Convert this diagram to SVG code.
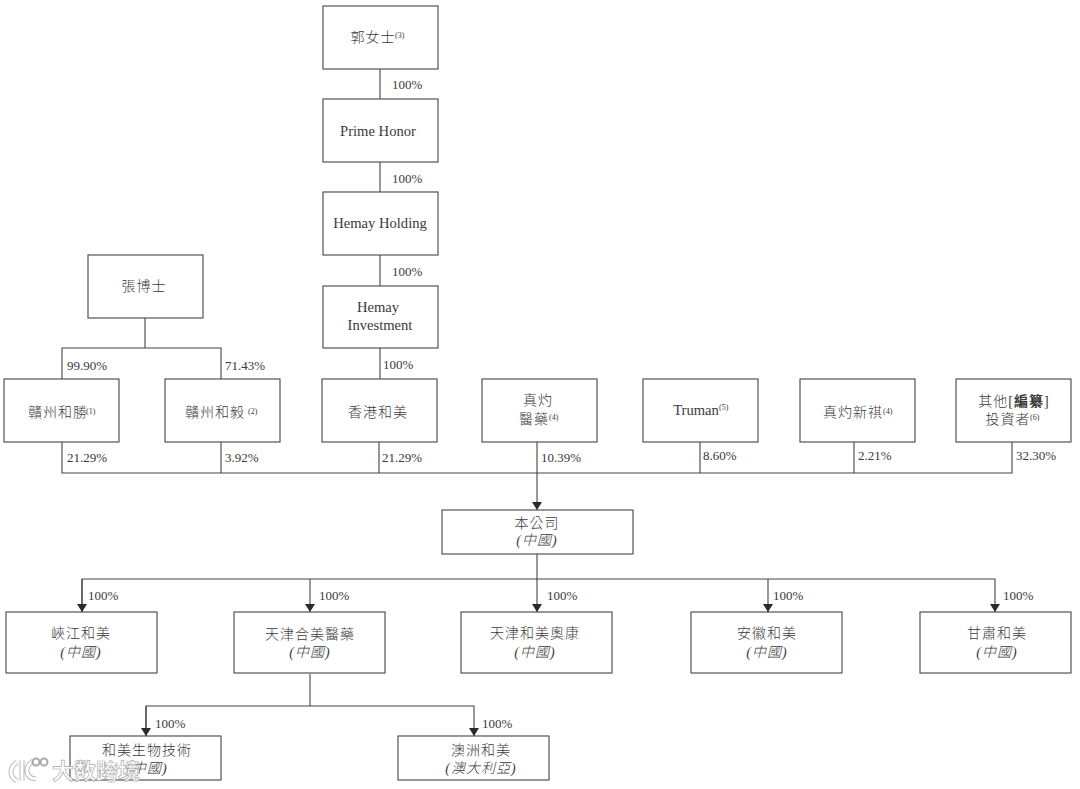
<svg xmlns="http://www.w3.org/2000/svg" width="1080" height="789" viewBox="0 0 1080 789">
<defs>
<marker id="arr" markerUnits="userSpaceOnUse" markerWidth="11" markerHeight="10" refX="8" refY="5" orient="auto"><path d="M0 0L8 5L0 10Z" fill="#2b2b2b"/></marker>
</defs>
<style>
text{font-family:"Liberation Serif","Noto Sans CJK TC",serif;fill:#3a3a3a;text-anchor:middle}
.b{fill:#fff;stroke:#444;stroke-width:1.1}
.n{font-size:14.6px}
.c{font-size:14px;letter-spacing:1px;font-weight:300}
.i{font-size:14px;font-style:italic;letter-spacing:1px;font-weight:300}
.p{font-size:13px;text-anchor:start}
.s{font-size:8px;text-anchor:start}
.l{fill:none;stroke:#444;stroke-width:1.1}
.w{font-family:"Noto Sans CJK SC",sans-serif;font-size:22px;font-weight:700;fill:#fff;fill-opacity:.85;stroke:#aaa;stroke-width:.7;text-anchor:start}
.m{fill:none;stroke:#fff;stroke-width:3}
.g{fill:none;stroke:#bbb;stroke-width:5}
</style>
<rect width="1080" height="789" fill="#fff"/>
<g id="connectors">
<path class="l" d="M380 69V99M380 162V192M380 255V286M380 348V379"/>
<path class="l" d="M145 318V348M62 379V348H221V379"/>
<path class="l" d="M62 442V473H1012V442M221 442V473M379 442V473M700 442V473M854 442V473"/>
<path class="l" d="M537 442V510" marker-end="url(#arr)"/>
<path class="l" d="M537 554V579"/>
<path class="l" d="M82 612V579H995V612" marker-end="url(#arr)"/>
<path class="l" d="M82 579V612" marker-end="url(#arr)"/>
<path class="l" d="M310 579V612" marker-end="url(#arr)"/>
<path class="l" d="M537 579V612" marker-end="url(#arr)"/>
<path class="l" d="M768 579V612" marker-end="url(#arr)"/>
<path class="l" d="M310 674V706"/>
<path class="l" d="M146 736V706H474V736" marker-end="url(#arr)"/>
<path class="l" d="M146 706V736" marker-end="url(#arr)"/>
</g>
<g id="labels">
<text class="p" x="392" y="89">100%</text>
<text class="p" x="392" y="183">100%</text>
<text class="p" x="392" y="276">100%</text>
<text class="p" x="383" y="369">100%</text>
<text class="p" x="67" y="370">99.90%</text>
<text class="p" x="225" y="370">71.43%</text>
<text class="p" x="67" y="462">21.29%</text>
<text class="p" x="225" y="462">3.92%</text>
<text class="p" x="382" y="462">21.29%</text>
<text class="p" x="541" y="462">10.39%</text>
<text class="p" x="703" y="460">8.60%</text>
<text class="p" x="858" y="460">2.21%</text>
<text class="p" x="1016" y="460">32.30%</text>
<text class="p" x="88" y="600">100%</text>
<text class="p" x="319" y="600">100%</text>
<text class="p" x="547" y="600">100%</text>
<text class="p" x="773" y="600">100%</text>
<text class="p" x="1003" y="600">100%</text>
<text class="p" x="155" y="728">100%</text>
<text class="p" x="482" y="728">100%</text>
</g>
<g id="n1"><rect class="b" x="323" y="6" width="115" height="63"/><text class="c" x="373" y="42">郭女士</text><text class="s" x="395" y="38">(3)</text></g>
<g id="n2"><rect class="b" x="323" y="99" width="115" height="63"/><text class="n" x="378" y="136">Prime Honor</text></g>
<g id="n3"><rect class="b" x="323" y="192" width="115" height="63"/><text class="n" x="380" y="228">Hemay Holding</text></g>
<g id="n4"><rect class="b" x="323" y="286" width="115" height="62"/><text class="n" x="378" y="312">Hemay</text><text class="n" x="380" y="330">Investment</text></g>
<g id="n5"><rect class="b" x="88" y="255" width="115" height="63"/><text class="c" x="144" y="291">張博士</text></g>
<g id="n6"><rect class="b" x="4" y="379" width="115" height="63"/><text class="c" x="58" y="417">贛州和勝</text><text class="s" x="86" y="414">(1)</text></g>
<g id="n7"><rect class="b" x="165" y="379" width="115" height="63"/><text class="c" x="215" y="417">贛州和毅</text><text class="s" x="248" y="414">(2)</text></g>
<g id="n8"><rect class="b" x="322" y="379" width="115" height="63"/><text class="c" x="378" y="417">香港和美</text></g>
<g id="n9"><rect class="b" x="482" y="379" width="115" height="63"/><text class="c" x="538" y="405">真灼</text><text class="c" x="534" y="424">醫藥</text><text class="s" x="549" y="420">(4)</text></g>
<g id="n10"><rect class="b" x="643" y="379" width="115" height="63"/><text class="n" x="696" y="415">Truman</text><text class="s" x="719" y="410">(5)</text></g>
<g id="n11"><rect class="b" x="800" y="379" width="115" height="63"/><text class="c" x="853" y="417">真灼新祺</text><text class="s" x="883" y="414">(4)</text></g>
<g id="n12"><rect class="b" x="956" y="379" width="115" height="63"/><text class="c" x="1014" y="406">其他[<tspan font-weight="bold">編纂</tspan>]</text><text class="c" x="1008" y="424">投資者</text><text class="s" x="1030" y="420">(6)</text></g>
<g id="n13"><rect class="b" x="442" y="510" width="191" height="44"/><text class="c" x="537" y="528">本公司</text><text class="i" x="537" y="545">(中國)</text></g>
<g id="n14"><rect class="b" x="6" y="612" width="151" height="61"/><text class="c" x="81" y="638">峽江和美</text><text class="i" x="81" y="657">(中國)</text></g>
<g id="n15"><rect class="b" x="234" y="612" width="151" height="61"/><text class="c" x="310" y="639">天津合美醫藥</text><text class="i" x="310" y="657">(中國)</text></g>
<g id="n16"><rect class="b" x="461" y="612" width="151" height="61"/><text class="c" x="535" y="638">天津和美奧康</text><text class="i" x="535" y="657">(中國)</text></g>
<g id="n17"><rect class="b" x="691" y="612" width="151" height="61"/><text class="c" x="767" y="638">安徽和美</text><text class="i" x="767" y="657">(中國)</text></g>
<g id="n18"><rect class="b" x="920" y="612" width="151" height="61"/><text class="c" x="997" y="638">甘肅和美</text><text class="i" x="997" y="657">(中國)</text></g>
<g id="n19"><rect class="b" x="70" y="736" width="151" height="44"/><text class="c" x="147" y="755">和美生物技術</text><text class="i" x="147" y="773">(中國)</text></g>
<g id="n20"><rect class="b" x="398" y="736" width="151" height="44"/><text class="c" x="481" y="755">澳洲和美</text><text class="i" x="481" y="773">(澳大利亞)</text></g>
<g id="watermark"><path class="g" d="M17 762C9 768 9 776 17 781M22 760V781M33 761C24 767 25 778 36 779"/><path class="m" d="M17 762C9 768 9 776 17 781M22 760V781M33 761C24 767 25 778 36 779"/><circle cx="36" cy="762" r="3.5" fill="none" stroke="#aaa" stroke-width="2"/><circle cx="44" cy="762" r="3.5" fill="none" stroke="#aaa" stroke-width="2"/><text class="w" x="52" y="779">大数跨境</text></g>
</svg>
